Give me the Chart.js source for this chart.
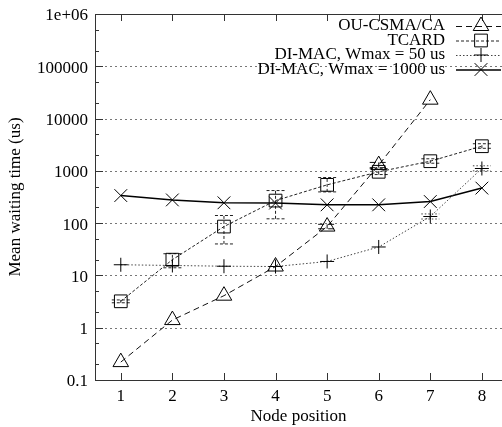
<!DOCTYPE html>
<html>
<head>
<meta charset="utf-8">
<script src="https://cdn.jsdelivr.net/npm/chart.js@4.4.1/dist/chart.umd.min.js"></script>
<style>
  html, body { margin: 0; padding: 0; background: #fff; }
  #wrap { width: 502px; height: 427px; }
</style>
</head>
<body>
<div id="wrap"><canvas id="waitChart"></canvas></div>
<script>
// data
const xValues = [1, 2, 3, 4, 5, 6, 7, 8];
const ouCsma = [0.22, 1.4, 4.1, 14.8, 86, 1290, 23000, null];
const ouCsmaLow = [null, null, null, null, 78, 1150, null, null];
const ouCsmaHigh = [null, null, null, null, 95, 1450, null, null];
const tcard = [3.2, 20, 86, 270, 540, 960, 1530, 2960];
const tcardLow = [3.0, 14, 40, 121, 396, 850, 1400, 2700];
const tcardHigh = [3.4, 26, 140, 420, 745, 1100, 1700, 3300];
const diMac50 = [16, 15.5, 15, 14.8, 18.5, 35, 134, 1110];
const diMac50Low = [null, null, null, null, null, null, 120, 1000];
const diMac50High = [null, null, null, null, null, null, 150, 1250];
const diMac1000 = [337, 278, 245, 242, 224, 224, 259, 468];

const yTickValues = [0.1, 1, 10, 100, 1000, 10000, 100000, 1000000];
const yTickLabels = ["0.1", "1", "10", "100", "1000", "10000", "100000", "1e+06"];
const yMinorTicks = [];
yTickValues.slice(0, -1).forEach((d) => { yMinorTicks.push(d * 2, d * 5); });

const seriesNames = ["OU-CSMA/CA", "TCARD", "DI-MAC, Wmax = 50 us", "DI-MAC, Wmax = 1000 us"];

const FONT = "'Liberation Serif', 'DejaVu Serif', serif";

function pairs(arr) {
  return xValues.map((x, i) => ({ x: x, y: arr[i] }));
}

const ctx = document.getElementById("waitChart").getContext("2d");

// grid, frame and inward ticks (gnuplot look)
const framePlugin = {
  id: "frame",
  beforeDatasetsDraw(chart) {
    const c = chart.ctx;
    const a = chart.chartArea;
    const xs = chart.scales.x;
    const ys = chart.scales.y;
    c.save();
    // dotted grid on the decades
    c.strokeStyle = "#777";
    c.lineWidth = 1;
    c.setLineDash([2, 3]);
    yTickValues.slice(1, -1).forEach((v) => {
      const y = Math.round(ys.getPixelForValue(v)) + 0.5;
      c.beginPath();
      c.moveTo(a.left, y);
      c.lineTo(a.right, y);
      c.stroke();
    });
    c.setLineDash([]);
    c.strokeStyle = "#333";
    // frame
    c.beginPath();
    c.moveTo(a.right, a.top + 0.5);
    c.lineTo(a.left + 0.5, a.top + 0.5);
    c.lineTo(a.left + 0.5, a.bottom + 0.5);
    c.lineTo(a.right, a.bottom + 0.5);
    c.stroke();
    // y ticks
    yTickValues.forEach((v) => {
      const y = Math.round(ys.getPixelForValue(v)) + 0.5;
      c.beginPath();
      c.moveTo(a.left, y);
      c.lineTo(a.left + 8, y);
      c.stroke();
    });
    yMinorTicks.forEach((v) => {
      const y = Math.round(ys.getPixelForValue(v)) + 0.5;
      c.beginPath();
      c.moveTo(a.left, y);
      c.lineTo(a.left + 4, y);
      c.stroke();
    });
    // x ticks, bottom and top
    xValues.forEach((v) => {
      const x = Math.round(xs.getPixelForValue(v)) + 0.5;
      c.beginPath();
      c.moveTo(x, a.bottom);
      c.lineTo(x, a.bottom - 7);
      c.moveTo(x, a.top);
      c.lineTo(x, a.top + 7);
      c.stroke();
    });
    // error bars
    const errs = [
      [0, ouCsmaLow, ouCsmaHigh],
      [1, tcardLow, tcardHigh],
      [2, diMac50Low, diMac50High],
    ];
    errs.forEach(([di, lo, hi]) => {
      const ds = chart.data.datasets[di];
      c.strokeStyle = ds.borderColor;
      c.setLineDash(ds.borderDash || []);
      lo.forEach((l, i) => {
        if (l === null) return;
        const x = xs.getPixelForValue(xValues[i]);
        const y1 = ys.getPixelForValue(l);
        const y2 = ys.getPixelForValue(hi[i]);
        c.beginPath();
        c.moveTo(x, y1);
        c.lineTo(x, y2);
        c.moveTo(x - 9, y1);
        c.lineTo(x + 9, y1);
        c.moveTo(x - 9, y2);
        c.lineTo(x + 9, y2);
        c.stroke();
      });
    });
    c.restore();
  },
};

// legend in the gnuplot way: text right, sample to its right
const keyPlugin = {
  id: "key",
  afterDraw(chart) {
    const c = chart.ctx;
    c.save();
    c.font = "17px " + FONT;
    c.textAlign = "right";
    c.textBaseline = "middle";
    chart.data.datasets.forEach((ds, i) => {
      const y = 26 + i * 14.5;
      c.fillStyle = "#000";
      c.fillText(seriesNames[i], 445, y);
      c.strokeStyle = ds.borderColor;
      c.lineWidth = ds.borderWidth;
      c.setLineDash(ds.borderDash || []);
      c.beginPath();
      c.moveTo(456, y + 0.5);
      c.lineTo(501, y + 0.5);
      c.stroke();
      c.setLineDash([]);
      c.strokeStyle = "#000";
      c.lineWidth = 1;
      c.fillStyle = "rgba(0,0,0,0)";
      Chart.helpers.drawPoint(c, {
        pointStyle: ds.pointStyle,
        radius: ds.pointRadius,
        rotation: 0,
        borderWidth: 1,
      }, 481, y);
    });
    c.restore();
  },
};

function series(label, arr, dash, style, radius, width, color) {
  return {
    label: label,
    data: pairs(arr),
    borderColor: color,
    borderWidth: width,
    borderDash: dash,
    pointStyle: style,
    pointRadius: radius,
    pointBorderColor: "#000",
    pointBackgroundColor: "rgba(0,0,0,0)",
    pointBorderWidth: 1,
    fill: false,
    tension: 0,
    spanGaps: false,
  };
}

new Chart(ctx, {
  type: "line",
  data: {
    datasets: [
      series(seriesNames[0], ouCsma, [6, 4], "triangle", 9, 1, "#111"),
      series(seriesNames[1], tcard, [3, 2], "rect", 9, 1, "#222"),
      series(seriesNames[2], diMac50, [1.5, 2], "cross", 7, 1, "#444"),
      series(seriesNames[3], diMac1000, [], "crossRot", 9, 1.5, "#000"),
    ],
  },
  options: {
    responsive: true,
    maintainAspectRatio: false,
    animation: false,
    layout: { autoPadding: false, padding: { top: 14, right: 0, left: 0, bottom: 0 } },
    plugins: {
      legend: { display: false },
      tooltip: { enabled: false },
    },
    scales: {
      x: {
        type: "linear",
        min: 0.5,
        max: 8.39,
        afterBuildTicks: (s) => { s.ticks = xValues.map((v) => ({ value: v })); },
        afterFit: (s) => { s.height = 47; s.paddingLeft = 0; s.paddingRight = 0; },
        grid: { display: false, drawTicks: false },
        border: { display: false },
        ticks: {
          padding: 6,
          color: "#000",
          font: { family: FONT, size: 17 },
          callback: (v) => String(v),
        },
        title: {
          display: true,
          text: "Node position",
          color: "#000",
          font: { family: FONT, size: 17 },
          padding: 0,
        },
      },
      y: {
        type: "logarithmic",
        min: 0.1,
        max: 1000000,
        afterBuildTicks: (s) => { s.ticks = yTickValues.map((v) => ({ value: v })); },
        afterFit: (s) => { s.width = 95; s.paddingTop = 0; s.paddingBottom = 0; },
        grid: { display: false, drawTicks: false },
        border: { display: false },
        ticks: {
          padding: 7,
          labelOffset: 2,
          autoSkip: false,
          color: "#000",
          font: { family: FONT, size: 17 },
          callback: (v) => {
            const i = yTickValues.findIndex((t) => Math.abs(t - v) / t < 1e-6);
            return i >= 0 ? yTickLabels[i] : "";
          },
        },
        title: {
          display: true,
          text: "Mean waiting time (us)",
          color: "#000",
          font: { family: FONT, size: 17 },
          padding: { top: 5, bottom: 0 },
        },
      },
    },
  },
  plugins: [framePlugin, keyPlugin],
});
</script>
</body>
</html>
